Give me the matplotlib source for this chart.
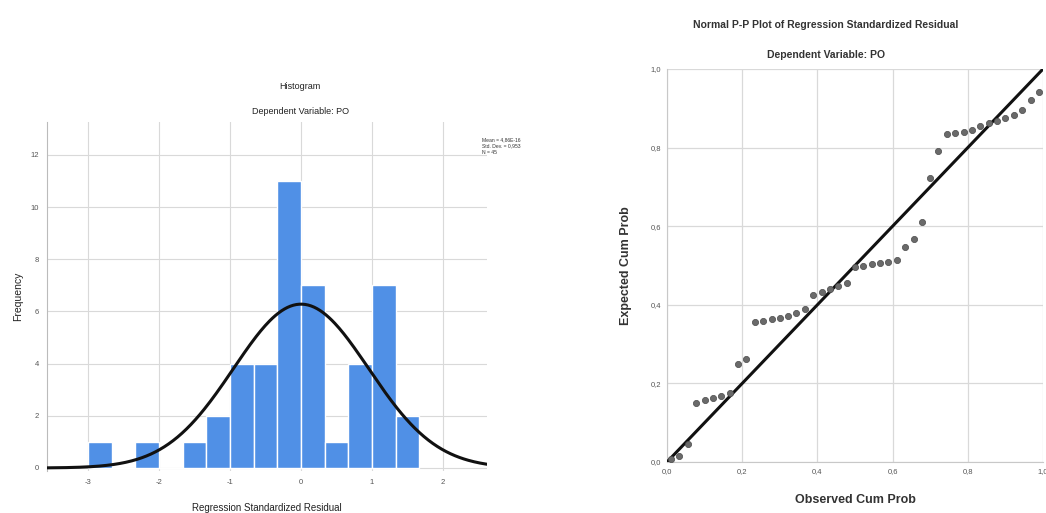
import numpy as np
import matplotlib
matplotlib.use("Agg")
import matplotlib.pyplot as plt

plt.rcParams['font.family'] = ['Liberation Sans', 'DejaVu Sans']
plt.rcParams['axes.unicode_minus'] = False

# histogram data (bins of width 1/3)
bin_left = [-3.0, -2.667, -2.333, -2.0, -1.667, -1.333, -1.0, -0.667, -0.333,
            0.0, 0.333, 0.667, 1.0, 1.333]
bin_count = [1, 0, 1, 0, 1, 2, 4, 4, 11, 7, 1, 4, 7, 2]
bin_width = 1 / 3
res_mean = 0.0
res_sd = 0.953
res_n = 45
hist_xticks = [-3, -2, -1, 0, 1, 2]
hist_yticks = [0, 2, 4, 6, 8, 10, 12]

# P-P plot data
observed_cum = [0.011, 0.033, 0.056, 0.078, 0.100, 0.122, 0.144, 0.167, 0.189,
                0.211, 0.233, 0.256, 0.278, 0.300, 0.322, 0.344, 0.367, 0.389,
                0.411, 0.433, 0.456, 0.478, 0.500, 0.522, 0.544, 0.567, 0.589,
                0.611, 0.633, 0.656, 0.678, 0.700, 0.722, 0.744, 0.767, 0.789,
                0.811, 0.833, 0.856, 0.878, 0.900, 0.922, 0.944, 0.967, 0.989]
expected_cum = [0.008, 0.014, 0.047, 0.150, 0.157, 0.163, 0.168, 0.176, 0.250,
                0.262, 0.356, 0.360, 0.363, 0.366, 0.371, 0.380, 0.390, 0.425,
                0.432, 0.440, 0.447, 0.455, 0.497, 0.500, 0.503, 0.507, 0.510,
                0.515, 0.547, 0.567, 0.610, 0.722, 0.792, 0.835, 0.837, 0.840,
                0.845, 0.855, 0.862, 0.868, 0.875, 0.882, 0.895, 0.922, 0.942]
pp_ticks = [0.0, 0.2, 0.4, 0.6, 0.8, 1.0]
pp_ticklabels = ['0,0', '0,2', '0,4', '0,6', '0,8', '1,0']

W, H = 1046, 513
fig = plt.figure(figsize=(W / 100, H / 100), dpi=100)
fig.patch.set_facecolor('white')

def frac(x0, y0, x1, y1):
    # pixel box -> figure fraction [left, bottom, width, height]
    return [x0 / W, 1 - y1 / H, (x1 - x0) / W, (y1 - y0) / H]

grid_col = '#d9d9d9'
tick_col = '#555555'

# ---- histogram ----
ax1 = fig.add_axes(frac(47, 122, 487, 470.6))
ax1.bar(bin_left, bin_count, width=bin_width, align='edge',
        color='#5090e6', edgecolor='white', linewidth=1.0, zorder=2)
xs = np.linspace(-3.6, 2.65, 300)
dens = res_n * bin_width / (res_sd * np.sqrt(2 * np.pi)) * np.exp(-0.5 * ((xs - res_mean) / res_sd) ** 2)
ax1.plot(xs, dens, color='#111111', linewidth=2.2, zorder=3)
ax1.set_xlim(-3.58, 2.62)
ax1.set_ylim(-0.1, 13.26)
ax1.set_xticks(hist_xticks)
ax1.set_yticks(hist_yticks)
ax1.tick_params(length=0, labelsize=5.5, colors=tick_col, pad=6)
ax1.grid(True, color=grid_col, linewidth=0.8, zorder=0)
for s in ['top', 'right', 'bottom']:
    ax1.spines[s].set_visible(False)
ax1.spines['left'].set_color('#bbbbbb')
ax1.set_ylabel('Frequency', fontsize=7.5, color='#222222', labelpad=5)
ax1.set_xlabel('Regression Standardized Residual', fontsize=7, color='#222222', labelpad=12)

fig.text(300 / W, 1 - 87 / H, 'Histogram', ha='center', va='center', fontsize=6.5, color='#222222')
fig.text(300 / W, 1 - 112 / H, 'Dependent Variable: PO', ha='center', va='center', fontsize=6.5, color='#222222')
fig.text(482 / W, 1 - 146 / H, 'Mean = 4,86E-16\nStd. Dev. = 0,953\nN = 45',
         ha='left', va='center', fontsize=3.6, color='#333333', linespacing=1.3)

# ---- P-P plot ----
ax2 = fig.add_axes(frac(667, 69, 1043, 462))
ax2.plot([0, 1], [0, 1], color='#111111', linewidth=2.2, zorder=3)
ax2.scatter(observed_cum, expected_cum, s=20, color='#6a6a6a',
            edgecolors='#4a4a4a', linewidths=0.5, zorder=4)
ax2.set_xlim(0, 1)
ax2.set_ylim(0, 1)
ax2.set_xticks(pp_ticks)
ax2.set_yticks(pp_ticks)
ax2.set_xticklabels(pp_ticklabels)
ax2.set_yticklabels(pp_ticklabels)
ax2.tick_params(length=0, labelsize=5.5, colors=tick_col, pad=4)
ax2.grid(True, color=grid_col, linewidth=0.9, zorder=0)
for s in ['top', 'right']:
    ax2.spines[s].set_visible(False)
for s in ['left', 'bottom']:
    ax2.spines[s].set_color('#c8c8c8')
ax2.set_ylabel('Expected Cum Prob', fontsize=9, fontweight='bold', color='#333333', labelpad=14)
ax2.set_xlabel('Observed Cum Prob', fontsize=9, fontweight='bold', color='#333333', labelpad=14)

fig.text(826 / W, 1 - 25 / H, 'Normal P-P Plot of Regression Standardized Residual',
         ha='center', va='center', fontsize=7.5, fontweight='bold', color='#333333')
fig.text(826 / W, 1 - 55 / H, 'Dependent Variable: PO',
         ha='center', va='center', fontsize=7.5, fontweight='bold', color='#333333')

fig.savefig('out.png', dpi=100)
